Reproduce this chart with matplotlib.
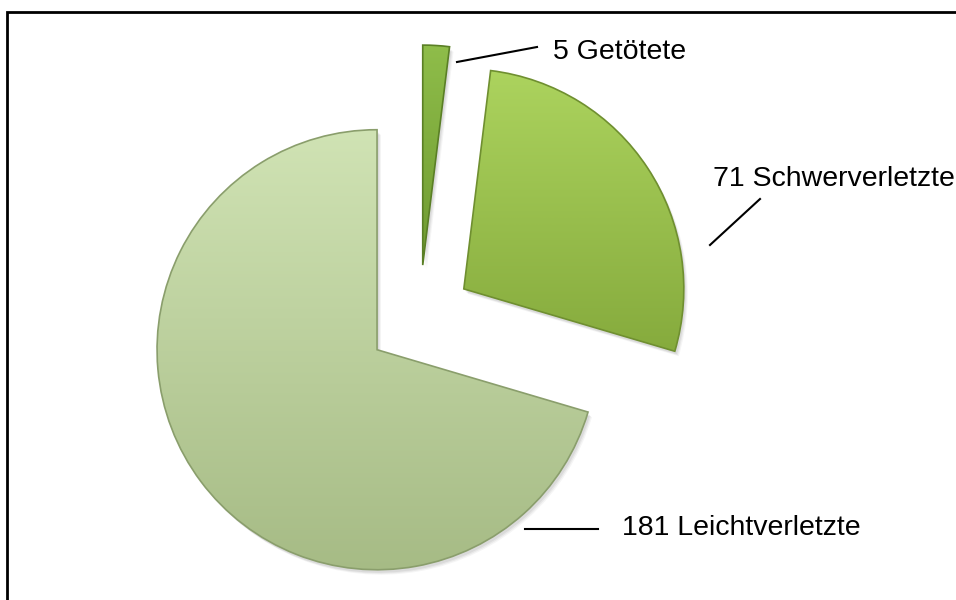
import numpy as np
import matplotlib
matplotlib.use('Agg')
import matplotlib.pyplot as plt
from matplotlib.patches import Rectangle, Wedge
from matplotlib.colors import LinearSegmentedColormap

# ---- data ----
categories = ['Getötete', 'Schwerverletzte', 'Leichtverletzte']
values = [5, 71, 181]
labels = [f'{v} {c}' for v, c in zip(values, categories)]

# ---- style ----
top_colors = ['#8fbd4a', '#acd35e', '#d0e3b4']
bot_colors = ['#6e9a30', '#86ab3d', '#a6bb85']
edge_colors = ['#5a7f25', '#6f8f30', '#8a9e6c']
label_pos = [(553, 52), (713, 179), (622, 528)]        # pixel positions (left, center)
leader = [((457, 62), (537, 47)), ((710, 245), (760, 199)), ((525, 529), (598, 529))]

W, H = 956, 600
fig = plt.figure(figsize=(W / 100, H / 100), dpi=100)
ax = fig.add_axes([0, 0, 1, 1])

cx, cy, R = 419.5, H - 318, 220
explode_px = 53
wedges, _ = ax.pie(values, explode=[explode_px] * 3, startangle=90, counterclock=False,
                   radius=R, center=(cx, cy), frame=False)
ax.set_xlim(0, W)
ax.set_ylim(0, H)
ax.set_aspect('equal')
ax.axis('off')

grad = np.linspace(0, 1, 256).reshape(-1, 1)
for i, w in enumerate(wedges):
    verts = w.get_path().vertices
    xmin, ymin = verts.min(axis=0)
    xmax, ymax = verts.max(axis=0)
    # soft shadow
    for k, a in enumerate([0.06, 0.05, 0.04]):
        sh = Wedge((w.center[0] + 2 + k, w.center[1] - 3 - k), w.r, w.theta1, w.theta2,
                   facecolor='#000000', alpha=a, edgecolor='none', zorder=1)
        ax.add_patch(sh)
    cmap = LinearSegmentedColormap.from_list(f'c{i}', [bot_colors[i], top_colors[i]])
    im = ax.imshow(grad, extent=[xmin, xmax, ymin, ymax], origin='lower', cmap=cmap,
                   aspect='auto', zorder=2, interpolation='bicubic')
    im.set_clip_path(w)
    w.set_facecolor('none')
    w.set_edgecolor(edge_colors[i])
    w.set_linewidth(1.2)
    w.set_zorder(3)

for (p0, p1) in leader:
    ax.plot([p0[0], p1[0]], [H - p0[1], H - p1[1]], color='black', lw=1.5, zorder=4)

for lab, (x, y) in zip(labels, label_pos):
    ax.text(x, H - y, lab, fontsize=20.5, family=['Liberation Sans', 'DejaVu Sans'],
            ha='left', va='center', color='black', zorder=5)

# outer frame (only top/left visible)
fig.patches.append(Rectangle((7 / W, -0.1), 1.2, (H - 12) / H + 0.1, transform=fig.transFigure,
                             fill=False, edgecolor='black', linewidth=2))

ax.set_xlim(0, W)
ax.set_ylim(0, H)
fig.savefig('out.png', dpi=100)
